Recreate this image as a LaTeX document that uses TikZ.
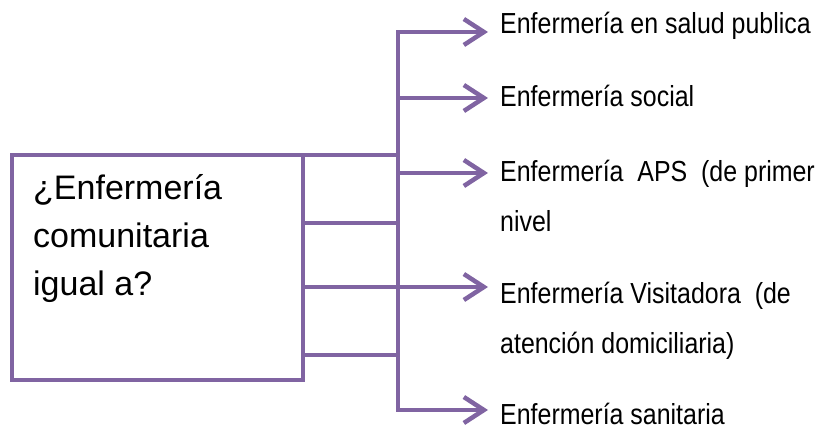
\documentclass[tikz,border=0pt]{standalone}
\usepackage{fontspec}
\setmainfont{Liberation Sans}
\newfontfamily\opcionfont[FakeStretch=0.86]{Liberation Sans}
\usetikzlibrary{arrows.meta}
\definecolor{lila}{HTML}{8064A2}
\tikzset{
  linea/.style={draw=lila,line width=4.5pt},
  flecha/.style={linea,-{Straight Barb[length=20pt,width=26pt]}},
  caja/.style={linea,rectangle,minimum width=291pt,minimum height=225pt,inner sep=0pt,outer sep=0pt},
  opcion/.style={anchor=base west,inner sep=0pt,align=left,font=\opcionfont\fontsize{29}{50}\selectfont},
}
\begin{document}
\begin{tikzpicture}[x=1pt,y=-1pt]
\useasboundingbox (0,0) rectangle (823,430);
\node[caja] (q) at (157.5,267.5) {};
\node[anchor=base west,inner sep=0pt,align=left,font=\fontsize{34}{48}\selectfont] (pregunta) at (33,296) {¿Enfermería\\comunitaria\\igual a?};
% tronco y ramas
\coordinate (k1) at (398,155);
\coordinate (k2) at (398,223);
\coordinate (k3) at (398,287);
\coordinate (k4) at (398,355);
\foreach \y [count=\i] in {32,98,173,287,410}
  \coordinate (e\i) at (488,\y);
\draw[linea] (q.north east) -- (k1);
\draw[linea] (q.east |- k2) -- (k2);
\draw[linea] (q.east |- k4) -- (k4);
\draw[linea] (k1) -- (k4);
\draw[flecha] (k1) |- (e1);
\draw[flecha] (k1 |- e2) -- (e2);
\draw[flecha] (k1 |- e3) -- (e3);
\draw[flecha] (q.east |- e4) -- (e4);
\draw[flecha] (k4) |- (e5);
% opciones
\node[opcion] (o1) at (500,34) {Enfermería en salud publica};
\node[opcion] (o2) at (500,107) {Enfermería social};
\node[opcion] (o3) at (500,232) {Enfermería\ \ APS\ \ (de primer\\nivel};
\node[opcion] (o4) at (500,354) {Enfermería Visitadora\ \ (de\\atención domiciliaria)};
\node[opcion] (o5) at (500,425) {Enfermería sanitaria};
\end{tikzpicture}
\end{document}
